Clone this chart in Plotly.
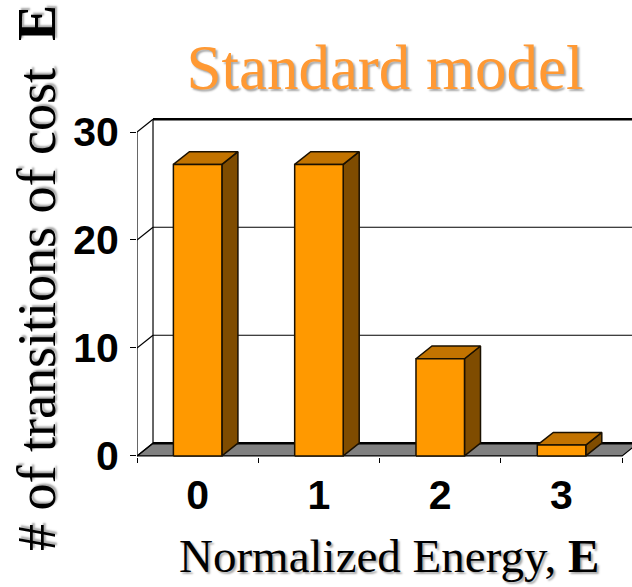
import plotly.graph_objects as go

# Data: number of transitions at each normalized energy level
energy_levels = [0, 1, 2, 3]
energy_labels = ["0", "1", "2", "3"]
transition_counts = [27, 27, 9, 1]
y_tick_values = [0, 10, 20, 30]
y_tick_labels = ["0", "10", "20", "30"]

# 3D look: bar width and depth offset expressed in axis units
BAR_W = 0.40
DX = 0.132   # depth offset along x (category units)
DY = 1.18    # depth offset along y (value units)

FRONT = "#FF9900"
TOP = "#C27300"
SIDE = "#7F4C00"
FLOOR = "#808080"
EDGE = "#1a1000"

X_MIN, X_MAX = -0.5, 3.581
Y_MIN, Y_MAX = -0.1, 32.04
WALL_TOP = max(y_tick_values)

fig = go.Figure()


def poly(xs, ys, fill, width=1.5, color=EDGE):
    fig.add_trace(go.Scatter(
        x=xs + [xs[0]], y=ys + [ys[0]], mode="lines", fill="toself",
        fillcolor=fill, line=dict(color=color, width=width),
        hoverinfo="skip", showlegend=False))


def seg(xs, ys, width=1.2, color="black"):
    fig.add_trace(go.Scatter(
        x=xs, y=ys, mode="lines", line=dict(color=color, width=width),
        hoverinfo="skip", showlegend=False))


# Floor
left, right = energy_levels[0] - 0.5, energy_levels[-1] + 0.5
poly([left, right, right + DX, left + DX], [0, 0, DY, DY], FLOOR, width=1.2, color="black")
seg([left + DX, right + DX], [DY, DY], width=2.6)

# Back wall gridlines and left wall edges
for v in y_tick_values[1:]:
    seg([left + DX, right + DX], [v + DY, v + DY],
        width=2.4 if v == WALL_TOP else 1.1)
seg([left + DX, left + DX], [DY, WALL_TOP + DY], width=1.2)
seg([left, left], [0, WALL_TOP], width=1.2)
for v in y_tick_values:
    seg([left, left + DX], [v, v + DY], width=1.2)

# Bars: side face, top face, front face
for x, v in zip(energy_levels, transition_counts):
    x0, x1 = x - BAR_W / 2, x + BAR_W / 2
    poly([x1, x1 + DX, x1 + DX, x1], [0, DY, v + DY, v], SIDE)
    poly([x0, x1, x1 + DX, x0 + DX], [v, v, v + DY, v + DY], TOP)
    poly([x0, x1, x1, x0], [0, 0, v, v], FRONT)

tick_font = dict(family="Arial, Liberation Sans, sans-serif", size=41, color="black")
serif = "Times New Roman, Liberation Serif, serif"
shadow = "2px 2px 2px #a8a8a8"

# Plot area geometry (pixels) used to place the axis titles
L, R, T, B = 137, 0, 110, 130
W, H = 632, 587
PW, PH = W - L - R, H - T - B


def px_to_paper(px, py):
    return (px - L) / PW, (H - B - py) / PH


yx, yy = px_to_paper(37, 278)
xx, xy = px_to_paper(389, 556)

fig.add_annotation(
    text="# of transitions of cost\u00a0 <b>E</b>", textangle=-90,
    x=yx, y=yy, xref="paper", yref="paper", xanchor="center", yanchor="middle",
    showarrow=False, font=dict(family=serif, size=54, color="black", shadow=shadow))
fig.add_annotation(
    text="Normalized Energy, <b>E</b>",
    x=xx, y=xy, xref="paper", yref="paper", xanchor="center", yanchor="middle",
    showarrow=False, font=dict(family=serif, size=47, color="black", shadow=shadow))

fig.update_layout(
    width=W, height=H,
    margin=dict(l=L, r=R, t=T, b=B, pad=0),
    paper_bgcolor="white", plot_bgcolor="white",
    title=dict(text="Standard model", x=385 / W, y=1 - 67 / H,
               xanchor="center", yanchor="middle", xref="container", yref="container",
               font=dict(family=serif, size=63, color="#FF9933", shadow=shadow)),
    xaxis=dict(range=[X_MIN, X_MAX], showgrid=False, zeroline=False, showline=False,
               tickmode="array", tickvals=energy_levels,
               ticktext=[f"<b>{t}</b>" for t in energy_labels],
               ticks="", tickfont=tick_font, ticklabelstandoff=10,
               minor=dict(tickmode="array",
                          tickvals=[e - 0.5 for e in energy_levels] + [energy_levels[-1] + 0.5],
                          ticks="outside", ticklen=5, tickwidth=1, tickcolor="black",
                          showgrid=False)),
    yaxis=dict(range=[Y_MIN, Y_MAX], showgrid=False, zeroline=False, showline=False,
               tickmode="array", tickvals=y_tick_values,
               ticktext=[f"<b>{t}</b>" for t in y_tick_labels],
               ticks="outside", ticklen=6, tickwidth=1, tickcolor="black",
               tickfont=tick_font, ticklabelstandoff=3),
)

fig.write_html("out.html")
